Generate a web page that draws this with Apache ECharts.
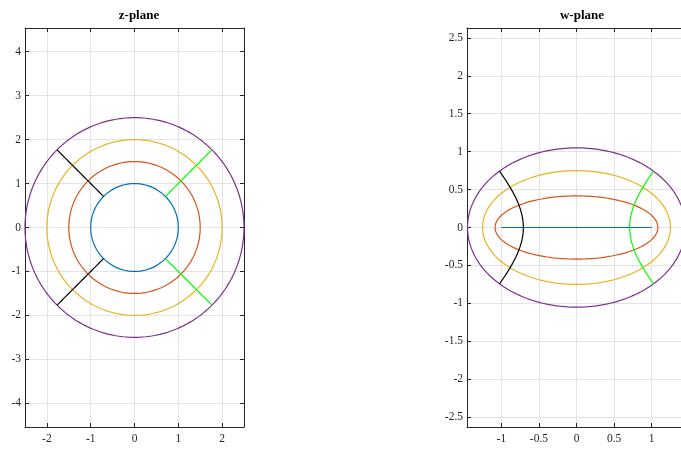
<!DOCTYPE html>
<html>
<head>
<meta charset="utf-8">
<script src="https://cdn.jsdelivr.net/npm/echarts@6/dist/echarts.min.js"></script>
<style>html,body{margin:0;padding:0;background:#fff;overflow:hidden;}#c{width:700px;height:449px;}</style>
</head>
<body>
<div id="c"></div>
<script>
// Values
const circleRadii = [1, 1.5, 2, 2.5];          // z-plane circles
const rayAnglesDeg = [135, -135, 45, -45];      // z-plane rays (black, black, green, green)
const rayRadiusRange = [1, 2.5];                // rays run from r=1 to r=2.5
const zLimX = [-2.5, 2.5], zLimY = [-4.54, 4.54];
const wLimX = [-1.457, 1.457], wLimY = [-2.63, 2.63];

const circleColors = ['#0072BD', '#D95319', '#EDB120', '#7E2F8E'];
const rayColors = ['#000000', '#000000', '#00FF00', '#00FF00'];

const N = 240;
function circlePts(r) {
  const p = [];
  for (let i = 0; i <= N; i++) { const t = 2 * Math.PI * i / N; p.push([r * Math.cos(t), r * Math.sin(t)]); }
  return p;
}
function rayPts(deg) {
  const t = deg * Math.PI / 180, p = [];
  for (let i = 0; i <= 60; i++) { const r = rayRadiusRange[0] + (rayRadiusRange[1] - rayRadiusRange[0]) * i / 60; p.push([r * Math.cos(t), r * Math.sin(t)]); }
  return p;
}
// Joukowski map w = (z + 1/z)/2
function joukowski(pts) {
  return pts.map(([x, y]) => { const d = x * x + y * y; return [(x + x / d) / 2, (y - y / d) / 2]; });
}

const font = 'Liberation Serif, Times New Roman, serif';
const axisCol = '#262626';
function mkX(grid, lim, split, pos, main) {
  return {
    type: 'value', gridIndex: grid, position: pos, min: lim[0], max: lim[1], splitNumber: split,
    axisLine: { show: true, onZero: false, lineStyle: { color: axisCol, width: 1 } },
    axisTick: { show: true, inside: true, length: 4, lineStyle: { color: axisCol } },
    axisLabel: { show: main, showMinLabel: false, showMaxLabel: false, color: axisCol, fontFamily: font, fontSize: 11.5, margin: 4 },
    splitLine: { show: main, lineStyle: { color: '#e3e3e3', width: 1 } }
  };
}
const xAxis = [
  mkX(0, zLimX, 5, 'bottom', true), mkX(0, zLimX, 5, 'top', false),
  mkX(1, wLimX, 6, 'bottom', true), mkX(1, wLimX, 6, 'top', false)
];
const yAxis = [
  mkX(0, zLimY, 9, 'left', true), mkX(0, zLimY, 9, 'right', false),
  mkX(1, wLimY, 10, 'left', true), mkX(1, wLimY, 10, 'right', false)
];
xAxis[0].axisLabel.margin = 6; xAxis[2].axisLabel.margin = 6;

const series = [];
function addLine(pts, color, xi, yi) {
  series.push({ type: 'line', xAxisIndex: xi, yAxisIndex: yi, data: pts, showSymbol: false, symbol: 'none',
    smooth: false, clip: true, animation: false, silent: true, lineStyle: { color: color, width: 1.2 } });
}
circleRadii.forEach((r, i) => {
  const c = circlePts(r);
  addLine(c, circleColors[i], 0, 0);
  const w = joukowski(c);
  addLine(r === 1 ? w.slice(0, N / 2 + 1) : w, circleColors[i], 2, 2);
});
rayAnglesDeg.forEach((a, i) => { const p = rayPts(a); addLine(p, rayColors[i], 0, 0); addLine(joukowski(p), rayColors[i], 2, 2); });

const chart = echarts.init(document.getElementById('c'), null, { renderer: 'canvas' });
chart.setOption({
  animation: false,
  backgroundColor: '#fff',
  title: [
    { text: 'z-plane', left: 134, top: 4, textAlign: 'center', textStyle: { fontFamily: font, fontWeight: 'bold', fontSize: 13, color: '#000' } },
    { text: 'w-plane', left: 577, top: 4, textAlign: 'center', textStyle: { fontFamily: font, fontWeight: 'bold', fontSize: 13, color: '#000' } }
  ],
  grid: [
    { left: 25, top: 28, width: 219, height: 399, containLabel: false },
    { left: 467, top: 28, width: 219, height: 399, containLabel: false }
  ],
  xAxis: xAxis, yAxis: yAxis, series: series
});
</script>
</body>
</html>
